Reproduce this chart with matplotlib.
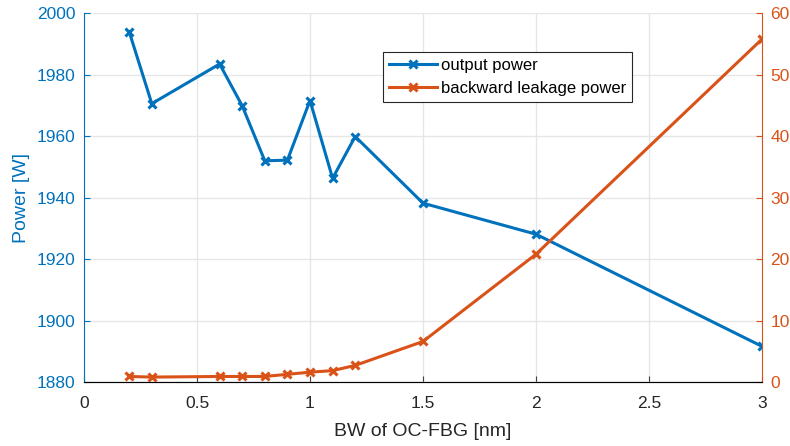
import matplotlib
matplotlib.use("Agg")
import matplotlib.pyplot as plt

bw = [0.2, 0.3, 0.6, 0.7, 0.8, 0.9, 1.0, 1.1, 1.2, 1.5, 2.0, 3.0]
output_power = [1994.0, 1970.6, 1983.5, 1969.9, 1952.0, 1952.2, 1971.6, 1946.3, 1959.9, 1938.2, 1928.1, 1891.6]
leakage_power = [0.9, 0.8, 0.9, 0.9, 0.9, 1.25, 1.6, 1.85, 2.7, 6.6, 20.8, 55.8]

xticks = [0, 0.5, 1, 1.5, 2, 2.5, 3]
xticklabels = ["0", "0.5", "1", "1.5", "2", "2.5", "3"]
yticks_left = [1880, 1900, 1920, 1940, 1960, 1980, 2000]
yticks_right = [0, 10, 20, 30, 40, 50, 60]

blue = "#0072BD"
orange = "#D95319"

plt.rcParams['font.family'] = ['Liberation Sans', 'DejaVu Sans']

fig = plt.figure(figsize=(7.9, 4.46), dpi=100)
ax = fig.add_axes([84/790, 64/446, 678/790, 368.7/446])
ax2 = ax.twinx()

l1, = ax.plot(bw, output_power, color=blue, lw=2.2, marker='x', ms=6, mew=2.2, label="output power")
l2, = ax2.plot(bw, leakage_power, color=orange, lw=2.2, marker='x', ms=6, mew=2.2, label="backward leakage power")

ax.set_xlim(0, 3)
ax.set_ylim(1880, 2000)
ax2.set_ylim(0, 60)
ax.set_xticks(xticks)
ax.set_xticklabels(xticklabels)
ax.set_yticks(yticks_left)
ax2.set_yticks(yticks_right)

ax.grid(True, color="#e6e6e6", lw=1)
ax.set_axisbelow(True)

for a in (ax, ax2):
    a.spines['top'].set_visible(False)
    a.tick_params(direction='in', labelsize=12.5, length=4, pad=6)
ax.spines['left'].set_color(blue)
ax.spines['right'].set_visible(False)
ax2.spines['left'].set_visible(False)
ax2.spines['right'].set_color(orange)
ax.spines['bottom'].set_color("#404040")
ax.tick_params(axis='y', colors=blue, labelcolor=blue)
ax.tick_params(axis='x', colors="#404040", labelcolor="#262626", pad=10)
ax2.tick_params(axis='y', colors=orange, labelcolor=orange)

ax.set_xlabel("BW of OC-FBG [nm]", fontsize=14, color="#262626", labelpad=9)
ax.set_ylabel("Power [W]", fontsize=14, color=blue, labelpad=5)

leg = ax2.legend(handles=[l1, l2], loc='upper left', bbox_to_anchor=(0.441, 0.895),
                 borderaxespad=0,
                 fontsize=12, frameon=True, fancybox=False, edgecolor="#262626",
                 framealpha=1, markerfirst=True, numpoints=1, handlelength=2.9,
                 borderpad=0.35, labelspacing=0.48, handletextpad=0.25)
leg.get_frame().set_linewidth(0.8)

fig.savefig("out.png", dpi=100)
